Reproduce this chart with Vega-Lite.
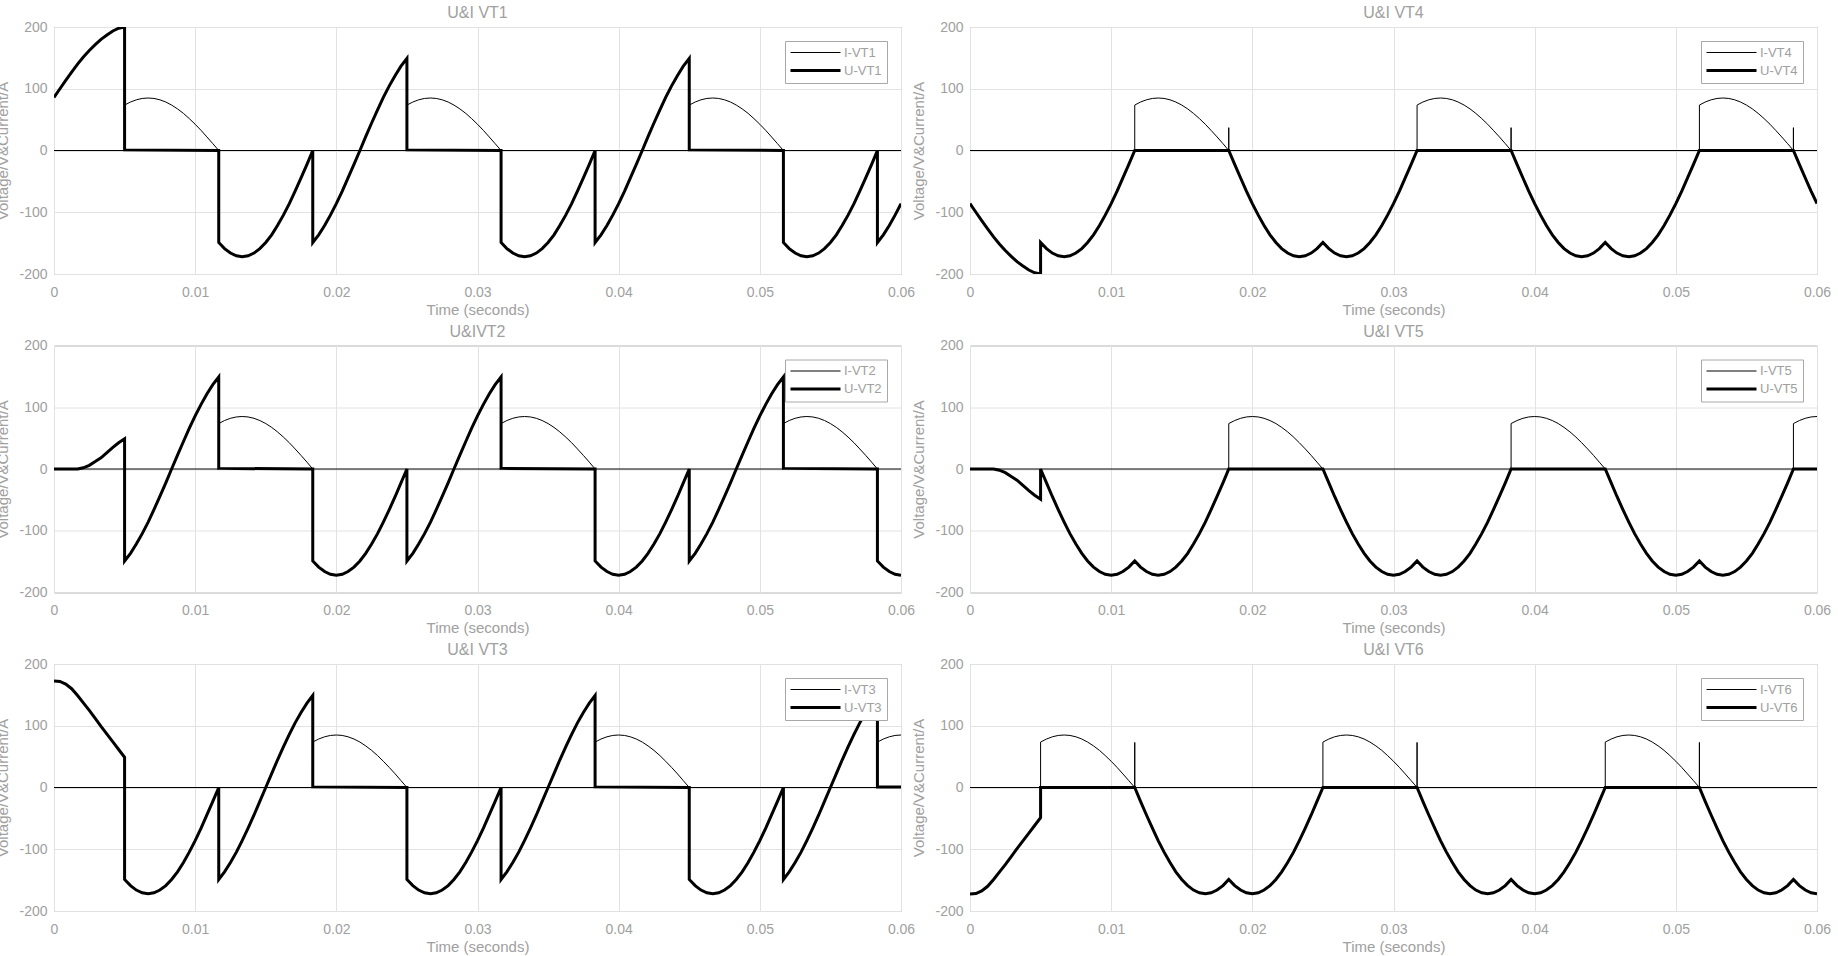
{
"$schema": "https://vega.github.io/schema/vega-lite/v6.json",
"background": "white",
"padding": {"left": -5, "top": 4, "right": 0, "bottom": 0},
"columns": 2,
"spacing": {"row": 71.5, "column": 69},
"bounds": "flush",
"resolve": {"scale": {"strokeWidth": "independent"}, "legend": {"strokeWidth": "independent"}},
"config": {
  "font": "Liberation Sans",
  "view": {"stroke": "#a8a8a8", "strokeWidth": 1},
  "axis": {"labelColor": "#a0a0a0", "titleColor": "#a0a0a0", "labelFontSize": 14, "titleFontSize": 15, "titleFontWeight": "normal", "gridColor": "#e2e2e2", "gridOpacity": 1, "domain": false, "ticks": false, "labelOverlap": false},
  "title": {"color": "#a0a0a0", "fontSize": 16, "fontWeight": "normal", "offset": -1, "anchor": "middle"},
  "legend": {"orient": "top-right", "offset": 14, "padding": 5, "strokeColor": "#a8a8a8", "fillColor": "white", "labelColor": "#a0a0a0", "labelFontSize": 13, "rowPadding": 4}
},
"datasets": {
"vt1": [
{"s":"I-VT1","t":0,"v":0},{"s":"I-VT1","t":0.005,"v":0},
{"s":"I-VT1","t":0.005,"v":73.6},{"s":"I-VT1","t":0.00542,"v":78.5},{"s":"I-VT1","t":0.00583,"v":82.1},{"s":"I-VT1","t":0.00625,"v":84.3},{"s":"I-VT1","t":0.00667,"v":85},{"s":"I-VT1","t":0.00708,"v":84.3},{"s":"I-VT1","t":0.0075,"v":82.1},{"s":"I-VT1","t":0.00792,"v":78.5},{"s":"I-VT1","t":0.00833,"v":73.6},{"s":"I-VT1","t":0.00875,"v":67.4},{"s":"I-VT1","t":0.00917,"v":60.1},{"s":"I-VT1","t":0.00958,"v":51.7},{"s":"I-VT1","t":0.01,"v":42.5},{"s":"I-VT1","t":0.01042,"v":32.5},{"s":"I-VT1","t":0.01083,"v":22},{"s":"I-VT1","t":0.01125,"v":11.1},{"s":"I-VT1","t":0.01167,"v":0},
{"s":"I-VT1","t":0.025,"v":0},
{"s":"I-VT1","t":0.025,"v":73.6},{"s":"I-VT1","t":0.02542,"v":78.5},{"s":"I-VT1","t":0.02583,"v":82.1},{"s":"I-VT1","t":0.02625,"v":84.3},{"s":"I-VT1","t":0.02667,"v":85},{"s":"I-VT1","t":0.02708,"v":84.3},{"s":"I-VT1","t":0.0275,"v":82.1},{"s":"I-VT1","t":0.02792,"v":78.5},{"s":"I-VT1","t":0.02833,"v":73.6},{"s":"I-VT1","t":0.02875,"v":67.4},{"s":"I-VT1","t":0.02917,"v":60.1},{"s":"I-VT1","t":0.02958,"v":51.7},{"s":"I-VT1","t":0.03,"v":42.5},{"s":"I-VT1","t":0.03042,"v":32.5},{"s":"I-VT1","t":0.03083,"v":22},{"s":"I-VT1","t":0.03125,"v":11.1},{"s":"I-VT1","t":0.03167,"v":0},
{"s":"I-VT1","t":0.045,"v":0},
{"s":"I-VT1","t":0.045,"v":73.6},{"s":"I-VT1","t":0.04542,"v":78.5},{"s":"I-VT1","t":0.04583,"v":82.1},{"s":"I-VT1","t":0.04625,"v":84.3},{"s":"I-VT1","t":0.04667,"v":85},{"s":"I-VT1","t":0.04708,"v":84.3},{"s":"I-VT1","t":0.0475,"v":82.1},{"s":"I-VT1","t":0.04792,"v":78.5},{"s":"I-VT1","t":0.04833,"v":73.6},{"s":"I-VT1","t":0.04875,"v":67.4},{"s":"I-VT1","t":0.04917,"v":60.1},{"s":"I-VT1","t":0.04958,"v":51.7},{"s":"I-VT1","t":0.05,"v":42.5},{"s":"I-VT1","t":0.05042,"v":32.5},{"s":"I-VT1","t":0.05083,"v":22},{"s":"I-VT1","t":0.05125,"v":11.1},{"s":"I-VT1","t":0.05167,"v":0},
{"s":"I-VT1","t":0.06,"v":0},
{"s":"U-VT1","t":0,"v":86},{"s":"U-VT1","t":0.00042,"v":100},{"s":"U-VT1","t":0.00083,"v":113.5},{"s":"U-VT1","t":0.00125,"v":127},{"s":"U-VT1","t":0.00167,"v":140},{"s":"U-VT1","t":0.00208,"v":151.5},{"s":"U-VT1","t":0.0025,"v":162},{"s":"U-VT1","t":0.00292,"v":171.5},{"s":"U-VT1","t":0.00333,"v":180},{"s":"U-VT1","t":0.00375,"v":187},{"s":"U-VT1","t":0.00417,"v":193.5},{"s":"U-VT1","t":0.00458,"v":198},{"s":"U-VT1","t":0.005,"v":200},
{"s":"U-VT1","t":0.005,"v":1},{"s":"U-VT1","t":0.01167,"v":0},
{"s":"U-VT1","t":0.01167,"v":-149},{"s":"U-VT1","t":0.01208,"v":-158.9},{"s":"U-VT1","t":0.0125,"v":-166.1},{"s":"U-VT1","t":0.01292,"v":-170.5},{"s":"U-VT1","t":0.01333,"v":-172},{"s":"U-VT1","t":0.01375,"v":-170.5},{"s":"U-VT1","t":0.01417,"v":-166.1},{"s":"U-VT1","t":0.01458,"v":-158.9},{"s":"U-VT1","t":0.015,"v":-149},{"s":"U-VT1","t":0.01542,"v":-136.5},{"s":"U-VT1","t":0.01583,"v":-121.6},{"s":"U-VT1","t":0.01625,"v":-104.7},{"s":"U-VT1","t":0.01667,"v":-86},{"s":"U-VT1","t":0.01708,"v":-65.8},{"s":"U-VT1","t":0.0175,"v":-44.5},{"s":"U-VT1","t":0.01792,"v":-22.4},{"s":"U-VT1","t":0.01833,"v":0},
{"s":"U-VT1","t":0.01833,"v":-149},{"s":"U-VT1","t":0.01875,"v":-136.5},{"s":"U-VT1","t":0.01917,"v":-121.6},{"s":"U-VT1","t":0.01958,"v":-104.7},{"s":"U-VT1","t":0.02,"v":-86},{"s":"U-VT1","t":0.02042,"v":-65.8},{"s":"U-VT1","t":0.02083,"v":-44.5},{"s":"U-VT1","t":0.02125,"v":-22.4},{"s":"U-VT1","t":0.02167,"v":0},{"s":"U-VT1","t":0.02208,"v":22.4},{"s":"U-VT1","t":0.0225,"v":44.5},{"s":"U-VT1","t":0.02292,"v":65.8},{"s":"U-VT1","t":0.02333,"v":86},{"s":"U-VT1","t":0.02375,"v":104.7},{"s":"U-VT1","t":0.02417,"v":121.6},{"s":"U-VT1","t":0.02458,"v":136.5},{"s":"U-VT1","t":0.025,"v":149},
{"s":"U-VT1","t":0.025,"v":1},{"s":"U-VT1","t":0.03167,"v":0},
{"s":"U-VT1","t":0.03167,"v":-149},{"s":"U-VT1","t":0.03208,"v":-158.9},{"s":"U-VT1","t":0.0325,"v":-166.1},{"s":"U-VT1","t":0.03292,"v":-170.5},{"s":"U-VT1","t":0.03333,"v":-172},{"s":"U-VT1","t":0.03375,"v":-170.5},{"s":"U-VT1","t":0.03417,"v":-166.1},{"s":"U-VT1","t":0.03458,"v":-158.9},{"s":"U-VT1","t":0.035,"v":-149},{"s":"U-VT1","t":0.03542,"v":-136.5},{"s":"U-VT1","t":0.03583,"v":-121.6},{"s":"U-VT1","t":0.03625,"v":-104.7},{"s":"U-VT1","t":0.03667,"v":-86},{"s":"U-VT1","t":0.03708,"v":-65.8},{"s":"U-VT1","t":0.0375,"v":-44.5},{"s":"U-VT1","t":0.03792,"v":-22.4},{"s":"U-VT1","t":0.03833,"v":0},
{"s":"U-VT1","t":0.03833,"v":-149},{"s":"U-VT1","t":0.03875,"v":-136.5},{"s":"U-VT1","t":0.03917,"v":-121.6},{"s":"U-VT1","t":0.03958,"v":-104.7},{"s":"U-VT1","t":0.04,"v":-86},{"s":"U-VT1","t":0.04042,"v":-65.8},{"s":"U-VT1","t":0.04083,"v":-44.5},{"s":"U-VT1","t":0.04125,"v":-22.4},{"s":"U-VT1","t":0.04167,"v":0},{"s":"U-VT1","t":0.04208,"v":22.4},{"s":"U-VT1","t":0.0425,"v":44.5},{"s":"U-VT1","t":0.04292,"v":65.8},{"s":"U-VT1","t":0.04333,"v":86},{"s":"U-VT1","t":0.04375,"v":104.7},{"s":"U-VT1","t":0.04417,"v":121.6},{"s":"U-VT1","t":0.04458,"v":136.5},{"s":"U-VT1","t":0.045,"v":149},
{"s":"U-VT1","t":0.045,"v":1},{"s":"U-VT1","t":0.05167,"v":0},
{"s":"U-VT1","t":0.05167,"v":-149},{"s":"U-VT1","t":0.05208,"v":-158.9},{"s":"U-VT1","t":0.0525,"v":-166.1},{"s":"U-VT1","t":0.05292,"v":-170.5},{"s":"U-VT1","t":0.05333,"v":-172},{"s":"U-VT1","t":0.05375,"v":-170.5},{"s":"U-VT1","t":0.05417,"v":-166.1},{"s":"U-VT1","t":0.05458,"v":-158.9},{"s":"U-VT1","t":0.055,"v":-149},{"s":"U-VT1","t":0.05542,"v":-136.5},{"s":"U-VT1","t":0.05583,"v":-121.6},{"s":"U-VT1","t":0.05625,"v":-104.7},{"s":"U-VT1","t":0.05667,"v":-86},{"s":"U-VT1","t":0.05708,"v":-65.8},{"s":"U-VT1","t":0.0575,"v":-44.5},{"s":"U-VT1","t":0.05792,"v":-22.4},{"s":"U-VT1","t":0.05833,"v":0},
{"s":"U-VT1","t":0.05833,"v":-149},{"s":"U-VT1","t":0.05875,"v":-136.5},{"s":"U-VT1","t":0.05917,"v":-121.6},{"s":"U-VT1","t":0.05958,"v":-104.7},{"s":"U-VT1","t":0.06,"v":-86}
],
"vt2": [
{"s":"I-VT2","t":0,"v":0},{"s":"I-VT2","t":0.01167,"v":0},
{"s":"I-VT2","t":0.01167,"v":73.6},{"s":"I-VT2","t":0.01208,"v":78.5},{"s":"I-VT2","t":0.0125,"v":82.1},{"s":"I-VT2","t":0.01292,"v":84.3},{"s":"I-VT2","t":0.01333,"v":85},{"s":"I-VT2","t":0.01375,"v":84.3},{"s":"I-VT2","t":0.01417,"v":82.1},{"s":"I-VT2","t":0.01458,"v":78.5},{"s":"I-VT2","t":0.015,"v":73.6},{"s":"I-VT2","t":0.01542,"v":67.4},{"s":"I-VT2","t":0.01583,"v":60.1},{"s":"I-VT2","t":0.01625,"v":51.7},{"s":"I-VT2","t":0.01667,"v":42.5},{"s":"I-VT2","t":0.01708,"v":32.5},{"s":"I-VT2","t":0.0175,"v":22},{"s":"I-VT2","t":0.01792,"v":11.1},{"s":"I-VT2","t":0.01833,"v":0},
{"s":"I-VT2","t":0.03167,"v":0},
{"s":"I-VT2","t":0.03167,"v":73.6},{"s":"I-VT2","t":0.03208,"v":78.5},{"s":"I-VT2","t":0.0325,"v":82.1},{"s":"I-VT2","t":0.03292,"v":84.3},{"s":"I-VT2","t":0.03333,"v":85},{"s":"I-VT2","t":0.03375,"v":84.3},{"s":"I-VT2","t":0.03417,"v":82.1},{"s":"I-VT2","t":0.03458,"v":78.5},{"s":"I-VT2","t":0.035,"v":73.6},{"s":"I-VT2","t":0.03542,"v":67.4},{"s":"I-VT2","t":0.03583,"v":60.1},{"s":"I-VT2","t":0.03625,"v":51.7},{"s":"I-VT2","t":0.03667,"v":42.5},{"s":"I-VT2","t":0.03708,"v":32.5},{"s":"I-VT2","t":0.0375,"v":22},{"s":"I-VT2","t":0.03792,"v":11.1},{"s":"I-VT2","t":0.03833,"v":0},
{"s":"I-VT2","t":0.05167,"v":0},
{"s":"I-VT2","t":0.05167,"v":73.6},{"s":"I-VT2","t":0.05208,"v":78.5},{"s":"I-VT2","t":0.0525,"v":82.1},{"s":"I-VT2","t":0.05292,"v":84.3},{"s":"I-VT2","t":0.05333,"v":85},{"s":"I-VT2","t":0.05375,"v":84.3},{"s":"I-VT2","t":0.05417,"v":82.1},{"s":"I-VT2","t":0.05458,"v":78.5},{"s":"I-VT2","t":0.055,"v":73.6},{"s":"I-VT2","t":0.05542,"v":67.4},{"s":"I-VT2","t":0.05583,"v":60.1},{"s":"I-VT2","t":0.05625,"v":51.7},{"s":"I-VT2","t":0.05667,"v":42.5},{"s":"I-VT2","t":0.05708,"v":32.5},{"s":"I-VT2","t":0.0575,"v":22},{"s":"I-VT2","t":0.05792,"v":11.1},{"s":"I-VT2","t":0.05833,"v":0},
{"s":"I-VT2","t":0.06,"v":0},
{"s":"U-VT2","t":0,"v":0},{"s":"U-VT2","t":0.00167,"v":0},{"s":"U-VT2","t":0.00208,"v":2},{"s":"U-VT2","t":0.0025,"v":6},{"s":"U-VT2","t":0.00292,"v":12},{"s":"U-VT2","t":0.00333,"v":18},{"s":"U-VT2","t":0.00375,"v":26.5},{"s":"U-VT2","t":0.00417,"v":35},{"s":"U-VT2","t":0.00458,"v":42.5},{"s":"U-VT2","t":0.005,"v":49},
{"s":"U-VT2","t":0.005,"v":-149},{"s":"U-VT2","t":0.00542,"v":-136.5},{"s":"U-VT2","t":0.00583,"v":-121.6},{"s":"U-VT2","t":0.00625,"v":-104.7},{"s":"U-VT2","t":0.00667,"v":-86},{"s":"U-VT2","t":0.00708,"v":-65.8},{"s":"U-VT2","t":0.0075,"v":-44.5},{"s":"U-VT2","t":0.00792,"v":-22.4},{"s":"U-VT2","t":0.00833,"v":0},{"s":"U-VT2","t":0.00875,"v":22.4},{"s":"U-VT2","t":0.00917,"v":44.5},{"s":"U-VT2","t":0.00958,"v":65.8},{"s":"U-VT2","t":0.01,"v":86},{"s":"U-VT2","t":0.01042,"v":104.7},{"s":"U-VT2","t":0.01083,"v":121.6},{"s":"U-VT2","t":0.01125,"v":136.5},{"s":"U-VT2","t":0.01167,"v":149},
{"s":"U-VT2","t":0.01167,"v":1},{"s":"U-VT2","t":0.01833,"v":0},
{"s":"U-VT2","t":0.01833,"v":-149},{"s":"U-VT2","t":0.01875,"v":-158.9},{"s":"U-VT2","t":0.01917,"v":-166.1},{"s":"U-VT2","t":0.01958,"v":-170.5},{"s":"U-VT2","t":0.02,"v":-172},{"s":"U-VT2","t":0.02042,"v":-170.5},{"s":"U-VT2","t":0.02083,"v":-166.1},{"s":"U-VT2","t":0.02125,"v":-158.9},{"s":"U-VT2","t":0.02167,"v":-149},{"s":"U-VT2","t":0.02208,"v":-136.5},{"s":"U-VT2","t":0.0225,"v":-121.6},{"s":"U-VT2","t":0.02292,"v":-104.7},{"s":"U-VT2","t":0.02333,"v":-86},{"s":"U-VT2","t":0.02375,"v":-65.8},{"s":"U-VT2","t":0.02417,"v":-44.5},{"s":"U-VT2","t":0.02458,"v":-22.4},{"s":"U-VT2","t":0.025,"v":0},
{"s":"U-VT2","t":0.025,"v":-149},{"s":"U-VT2","t":0.02542,"v":-136.5},{"s":"U-VT2","t":0.02583,"v":-121.6},{"s":"U-VT2","t":0.02625,"v":-104.7},{"s":"U-VT2","t":0.02667,"v":-86},{"s":"U-VT2","t":0.02708,"v":-65.8},{"s":"U-VT2","t":0.0275,"v":-44.5},{"s":"U-VT2","t":0.02792,"v":-22.4},{"s":"U-VT2","t":0.02833,"v":0},{"s":"U-VT2","t":0.02875,"v":22.4},{"s":"U-VT2","t":0.02917,"v":44.5},{"s":"U-VT2","t":0.02958,"v":65.8},{"s":"U-VT2","t":0.03,"v":86},{"s":"U-VT2","t":0.03042,"v":104.7},{"s":"U-VT2","t":0.03083,"v":121.6},{"s":"U-VT2","t":0.03125,"v":136.5},{"s":"U-VT2","t":0.03167,"v":149},
{"s":"U-VT2","t":0.03167,"v":1},{"s":"U-VT2","t":0.03833,"v":0},
{"s":"U-VT2","t":0.03833,"v":-149},{"s":"U-VT2","t":0.03875,"v":-158.9},{"s":"U-VT2","t":0.03917,"v":-166.1},{"s":"U-VT2","t":0.03958,"v":-170.5},{"s":"U-VT2","t":0.04,"v":-172},{"s":"U-VT2","t":0.04042,"v":-170.5},{"s":"U-VT2","t":0.04083,"v":-166.1},{"s":"U-VT2","t":0.04125,"v":-158.9},{"s":"U-VT2","t":0.04167,"v":-149},{"s":"U-VT2","t":0.04208,"v":-136.5},{"s":"U-VT2","t":0.0425,"v":-121.6},{"s":"U-VT2","t":0.04292,"v":-104.7},{"s":"U-VT2","t":0.04333,"v":-86},{"s":"U-VT2","t":0.04375,"v":-65.8},{"s":"U-VT2","t":0.04417,"v":-44.5},{"s":"U-VT2","t":0.04458,"v":-22.4},{"s":"U-VT2","t":0.045,"v":0},
{"s":"U-VT2","t":0.045,"v":-149},{"s":"U-VT2","t":0.04542,"v":-136.5},{"s":"U-VT2","t":0.04583,"v":-121.6},{"s":"U-VT2","t":0.04625,"v":-104.7},{"s":"U-VT2","t":0.04667,"v":-86},{"s":"U-VT2","t":0.04708,"v":-65.8},{"s":"U-VT2","t":0.0475,"v":-44.5},{"s":"U-VT2","t":0.04792,"v":-22.4},{"s":"U-VT2","t":0.04833,"v":0},{"s":"U-VT2","t":0.04875,"v":22.4},{"s":"U-VT2","t":0.04917,"v":44.5},{"s":"U-VT2","t":0.04958,"v":65.8},{"s":"U-VT2","t":0.05,"v":86},{"s":"U-VT2","t":0.05042,"v":104.7},{"s":"U-VT2","t":0.05083,"v":121.6},{"s":"U-VT2","t":0.05125,"v":136.5},{"s":"U-VT2","t":0.05167,"v":149},
{"s":"U-VT2","t":0.05167,"v":1},{"s":"U-VT2","t":0.05833,"v":0},
{"s":"U-VT2","t":0.05833,"v":-149},{"s":"U-VT2","t":0.05875,"v":-158.9},{"s":"U-VT2","t":0.05917,"v":-166.1},{"s":"U-VT2","t":0.05958,"v":-170.5},{"s":"U-VT2","t":0.06,"v":-172}
],
"vt3": [
{"s":"I-VT3","t":0,"v":0},{"s":"I-VT3","t":0.01833,"v":0},
{"s":"I-VT3","t":0.01833,"v":73.6},{"s":"I-VT3","t":0.01875,"v":78.5},{"s":"I-VT3","t":0.01917,"v":82.1},{"s":"I-VT3","t":0.01958,"v":84.3},{"s":"I-VT3","t":0.02,"v":85},{"s":"I-VT3","t":0.02042,"v":84.3},{"s":"I-VT3","t":0.02083,"v":82.1},{"s":"I-VT3","t":0.02125,"v":78.5},{"s":"I-VT3","t":0.02167,"v":73.6},{"s":"I-VT3","t":0.02208,"v":67.4},{"s":"I-VT3","t":0.0225,"v":60.1},{"s":"I-VT3","t":0.02292,"v":51.7},{"s":"I-VT3","t":0.02333,"v":42.5},{"s":"I-VT3","t":0.02375,"v":32.5},{"s":"I-VT3","t":0.02417,"v":22},{"s":"I-VT3","t":0.02458,"v":11.1},{"s":"I-VT3","t":0.025,"v":0},
{"s":"I-VT3","t":0.03833,"v":0},
{"s":"I-VT3","t":0.03833,"v":73.6},{"s":"I-VT3","t":0.03875,"v":78.5},{"s":"I-VT3","t":0.03917,"v":82.1},{"s":"I-VT3","t":0.03958,"v":84.3},{"s":"I-VT3","t":0.04,"v":85},{"s":"I-VT3","t":0.04042,"v":84.3},{"s":"I-VT3","t":0.04083,"v":82.1},{"s":"I-VT3","t":0.04125,"v":78.5},{"s":"I-VT3","t":0.04167,"v":73.6},{"s":"I-VT3","t":0.04208,"v":67.4},{"s":"I-VT3","t":0.0425,"v":60.1},{"s":"I-VT3","t":0.04292,"v":51.7},{"s":"I-VT3","t":0.04333,"v":42.5},{"s":"I-VT3","t":0.04375,"v":32.5},{"s":"I-VT3","t":0.04417,"v":22},{"s":"I-VT3","t":0.04458,"v":11.1},{"s":"I-VT3","t":0.045,"v":0},
{"s":"I-VT3","t":0.05833,"v":0},
{"s":"I-VT3","t":0.05833,"v":73.6},{"s":"I-VT3","t":0.05875,"v":78.5},{"s":"I-VT3","t":0.05917,"v":82.1},{"s":"I-VT3","t":0.05958,"v":84.3},{"s":"I-VT3","t":0.06,"v":85},
{"s":"U-VT3","t":0,"v":172.6},{"s":"U-VT3","t":0.00042,"v":171.8},{"s":"U-VT3","t":0.00083,"v":167.5},{"s":"U-VT3","t":0.00125,"v":160},{"s":"U-VT3","t":0.00167,"v":149},{"s":"U-VT3","t":0.00208,"v":137},{"s":"U-VT3","t":0.0025,"v":125},{"s":"U-VT3","t":0.00292,"v":112},{"s":"U-VT3","t":0.00333,"v":99},{"s":"U-VT3","t":0.00375,"v":86.5},{"s":"U-VT3","t":0.00417,"v":74},{"s":"U-VT3","t":0.00458,"v":61.5},{"s":"U-VT3","t":0.005,"v":49},
{"s":"U-VT3","t":0.005,"v":-149},{"s":"U-VT3","t":0.00542,"v":-158.9},{"s":"U-VT3","t":0.00583,"v":-166.1},{"s":"U-VT3","t":0.00625,"v":-170.5},{"s":"U-VT3","t":0.00667,"v":-172},{"s":"U-VT3","t":0.00708,"v":-170.5},{"s":"U-VT3","t":0.0075,"v":-166.1},{"s":"U-VT3","t":0.00792,"v":-158.9},{"s":"U-VT3","t":0.00833,"v":-149},{"s":"U-VT3","t":0.00875,"v":-136.5},{"s":"U-VT3","t":0.00917,"v":-121.6},{"s":"U-VT3","t":0.00958,"v":-104.7},{"s":"U-VT3","t":0.01,"v":-86},{"s":"U-VT3","t":0.01042,"v":-65.8},{"s":"U-VT3","t":0.01083,"v":-44.5},{"s":"U-VT3","t":0.01125,"v":-22.4},{"s":"U-VT3","t":0.01167,"v":0},
{"s":"U-VT3","t":0.01167,"v":-149},{"s":"U-VT3","t":0.01208,"v":-136.5},{"s":"U-VT3","t":0.0125,"v":-121.6},{"s":"U-VT3","t":0.01292,"v":-104.7},{"s":"U-VT3","t":0.01333,"v":-86},{"s":"U-VT3","t":0.01375,"v":-65.8},{"s":"U-VT3","t":0.01417,"v":-44.5},{"s":"U-VT3","t":0.01458,"v":-22.4},{"s":"U-VT3","t":0.015,"v":0},{"s":"U-VT3","t":0.01542,"v":22.4},{"s":"U-VT3","t":0.01583,"v":44.5},{"s":"U-VT3","t":0.01625,"v":65.8},{"s":"U-VT3","t":0.01667,"v":86},{"s":"U-VT3","t":0.01708,"v":104.7},{"s":"U-VT3","t":0.0175,"v":121.6},{"s":"U-VT3","t":0.01792,"v":136.5},{"s":"U-VT3","t":0.01833,"v":149},
{"s":"U-VT3","t":0.01833,"v":1},{"s":"U-VT3","t":0.025,"v":0},
{"s":"U-VT3","t":0.025,"v":-149},{"s":"U-VT3","t":0.02542,"v":-158.9},{"s":"U-VT3","t":0.02583,"v":-166.1},{"s":"U-VT3","t":0.02625,"v":-170.5},{"s":"U-VT3","t":0.02667,"v":-172},{"s":"U-VT3","t":0.02708,"v":-170.5},{"s":"U-VT3","t":0.0275,"v":-166.1},{"s":"U-VT3","t":0.02792,"v":-158.9},{"s":"U-VT3","t":0.02833,"v":-149},{"s":"U-VT3","t":0.02875,"v":-136.5},{"s":"U-VT3","t":0.02917,"v":-121.6},{"s":"U-VT3","t":0.02958,"v":-104.7},{"s":"U-VT3","t":0.03,"v":-86},{"s":"U-VT3","t":0.03042,"v":-65.8},{"s":"U-VT3","t":0.03083,"v":-44.5},{"s":"U-VT3","t":0.03125,"v":-22.4},{"s":"U-VT3","t":0.03167,"v":0},
{"s":"U-VT3","t":0.03167,"v":-149},{"s":"U-VT3","t":0.03208,"v":-136.5},{"s":"U-VT3","t":0.0325,"v":-121.6},{"s":"U-VT3","t":0.03292,"v":-104.7},{"s":"U-VT3","t":0.03333,"v":-86},{"s":"U-VT3","t":0.03375,"v":-65.8},{"s":"U-VT3","t":0.03417,"v":-44.5},{"s":"U-VT3","t":0.03458,"v":-22.4},{"s":"U-VT3","t":0.035,"v":0},{"s":"U-VT3","t":0.03542,"v":22.4},{"s":"U-VT3","t":0.03583,"v":44.5},{"s":"U-VT3","t":0.03625,"v":65.8},{"s":"U-VT3","t":0.03667,"v":86},{"s":"U-VT3","t":0.03708,"v":104.7},{"s":"U-VT3","t":0.0375,"v":121.6},{"s":"U-VT3","t":0.03792,"v":136.5},{"s":"U-VT3","t":0.03833,"v":149},
{"s":"U-VT3","t":0.03833,"v":1},{"s":"U-VT3","t":0.045,"v":0},
{"s":"U-VT3","t":0.045,"v":-149},{"s":"U-VT3","t":0.04542,"v":-158.9},{"s":"U-VT3","t":0.04583,"v":-166.1},{"s":"U-VT3","t":0.04625,"v":-170.5},{"s":"U-VT3","t":0.04667,"v":-172},{"s":"U-VT3","t":0.04708,"v":-170.5},{"s":"U-VT3","t":0.0475,"v":-166.1},{"s":"U-VT3","t":0.04792,"v":-158.9},{"s":"U-VT3","t":0.04833,"v":-149},{"s":"U-VT3","t":0.04875,"v":-136.5},{"s":"U-VT3","t":0.04917,"v":-121.6},{"s":"U-VT3","t":0.04958,"v":-104.7},{"s":"U-VT3","t":0.05,"v":-86},{"s":"U-VT3","t":0.05042,"v":-65.8},{"s":"U-VT3","t":0.05083,"v":-44.5},{"s":"U-VT3","t":0.05125,"v":-22.4},{"s":"U-VT3","t":0.05167,"v":0},
{"s":"U-VT3","t":0.05167,"v":-149},{"s":"U-VT3","t":0.05208,"v":-136.5},{"s":"U-VT3","t":0.0525,"v":-121.6},{"s":"U-VT3","t":0.05292,"v":-104.7},{"s":"U-VT3","t":0.05333,"v":-86},{"s":"U-VT3","t":0.05375,"v":-65.8},{"s":"U-VT3","t":0.05417,"v":-44.5},{"s":"U-VT3","t":0.05458,"v":-22.4},{"s":"U-VT3","t":0.055,"v":0},{"s":"U-VT3","t":0.05542,"v":22.4},{"s":"U-VT3","t":0.05583,"v":44.5},{"s":"U-VT3","t":0.05625,"v":65.8},{"s":"U-VT3","t":0.05667,"v":86},{"s":"U-VT3","t":0.05708,"v":104.7},{"s":"U-VT3","t":0.0575,"v":121.6},{"s":"U-VT3","t":0.05792,"v":136.5},{"s":"U-VT3","t":0.05833,"v":149},
{"s":"U-VT3","t":0.05833,"v":1},{"s":"U-VT3","t":0.06,"v":1}
],
"vt4": [
{"s":"I-VT4","t":0,"v":0},{"s":"I-VT4","t":0.01167,"v":0},
{"s":"I-VT4","t":0.01167,"v":73.6},{"s":"I-VT4","t":0.01208,"v":78.5},{"s":"I-VT4","t":0.0125,"v":82.1},{"s":"I-VT4","t":0.01292,"v":84.3},{"s":"I-VT4","t":0.01333,"v":85},{"s":"I-VT4","t":0.01375,"v":84.3},{"s":"I-VT4","t":0.01417,"v":82.1},{"s":"I-VT4","t":0.01458,"v":78.5},{"s":"I-VT4","t":0.015,"v":73.6},{"s":"I-VT4","t":0.01542,"v":67.4},{"s":"I-VT4","t":0.01583,"v":60.1},{"s":"I-VT4","t":0.01625,"v":51.7},{"s":"I-VT4","t":0.01667,"v":42.5},{"s":"I-VT4","t":0.01708,"v":32.5},{"s":"I-VT4","t":0.0175,"v":22},{"s":"I-VT4","t":0.01792,"v":11.1},{"s":"I-VT4","t":0.01833,"v":0},{"s":"I-VT4","t":0.01833,"v":37},{"s":"I-VT4","t":0.01833,"v":0},
{"s":"I-VT4","t":0.03167,"v":0},
{"s":"I-VT4","t":0.03167,"v":73.6},{"s":"I-VT4","t":0.03208,"v":78.5},{"s":"I-VT4","t":0.0325,"v":82.1},{"s":"I-VT4","t":0.03292,"v":84.3},{"s":"I-VT4","t":0.03333,"v":85},{"s":"I-VT4","t":0.03375,"v":84.3},{"s":"I-VT4","t":0.03417,"v":82.1},{"s":"I-VT4","t":0.03458,"v":78.5},{"s":"I-VT4","t":0.035,"v":73.6},{"s":"I-VT4","t":0.03542,"v":67.4},{"s":"I-VT4","t":0.03583,"v":60.1},{"s":"I-VT4","t":0.03625,"v":51.7},{"s":"I-VT4","t":0.03667,"v":42.5},{"s":"I-VT4","t":0.03708,"v":32.5},{"s":"I-VT4","t":0.0375,"v":22},{"s":"I-VT4","t":0.03792,"v":11.1},{"s":"I-VT4","t":0.03833,"v":0},{"s":"I-VT4","t":0.03833,"v":37},{"s":"I-VT4","t":0.03833,"v":0},
{"s":"I-VT4","t":0.05167,"v":0},
{"s":"I-VT4","t":0.05167,"v":73.6},{"s":"I-VT4","t":0.05208,"v":78.5},{"s":"I-VT4","t":0.0525,"v":82.1},{"s":"I-VT4","t":0.05292,"v":84.3},{"s":"I-VT4","t":0.05333,"v":85},{"s":"I-VT4","t":0.05375,"v":84.3},{"s":"I-VT4","t":0.05417,"v":82.1},{"s":"I-VT4","t":0.05458,"v":78.5},{"s":"I-VT4","t":0.055,"v":73.6},{"s":"I-VT4","t":0.05542,"v":67.4},{"s":"I-VT4","t":0.05583,"v":60.1},{"s":"I-VT4","t":0.05625,"v":51.7},{"s":"I-VT4","t":0.05667,"v":42.5},{"s":"I-VT4","t":0.05708,"v":32.5},{"s":"I-VT4","t":0.0575,"v":22},{"s":"I-VT4","t":0.05792,"v":11.1},{"s":"I-VT4","t":0.05833,"v":0},{"s":"I-VT4","t":0.05833,"v":37},{"s":"I-VT4","t":0.05833,"v":0},
{"s":"I-VT4","t":0.06,"v":0},
{"s":"U-VT4","t":0,"v":-86},{"s":"U-VT4","t":0.00042,"v":-100},{"s":"U-VT4","t":0.00083,"v":-113.5},{"s":"U-VT4","t":0.00125,"v":-127},{"s":"U-VT4","t":0.00167,"v":-140},{"s":"U-VT4","t":0.00208,"v":-151.5},{"s":"U-VT4","t":0.0025,"v":-162},{"s":"U-VT4","t":0.00292,"v":-171.5},{"s":"U-VT4","t":0.00333,"v":-180},{"s":"U-VT4","t":0.00375,"v":-187},{"s":"U-VT4","t":0.00417,"v":-193.5},{"s":"U-VT4","t":0.00458,"v":-198},{"s":"U-VT4","t":0.005,"v":-200},
{"s":"U-VT4","t":0.005,"v":-149},{"s":"U-VT4","t":0.00542,"v":-158.9},{"s":"U-VT4","t":0.00583,"v":-166.1},{"s":"U-VT4","t":0.00625,"v":-170.5},{"s":"U-VT4","t":0.00667,"v":-172},{"s":"U-VT4","t":0.00708,"v":-170.5},{"s":"U-VT4","t":0.0075,"v":-166.1},{"s":"U-VT4","t":0.00792,"v":-158.9},{"s":"U-VT4","t":0.00833,"v":-149},{"s":"U-VT4","t":0.00875,"v":-136.5},{"s":"U-VT4","t":0.00917,"v":-121.6},{"s":"U-VT4","t":0.00958,"v":-104.7},{"s":"U-VT4","t":0.01,"v":-86},{"s":"U-VT4","t":0.01042,"v":-65.8},{"s":"U-VT4","t":0.01083,"v":-44.5},{"s":"U-VT4","t":0.01125,"v":-22.4},{"s":"U-VT4","t":0.01167,"v":0},
{"s":"U-VT4","t":0.01833,"v":0},{"s":"U-VT4","t":0.01875,"v":-22.4},{"s":"U-VT4","t":0.01917,"v":-44.5},{"s":"U-VT4","t":0.01958,"v":-65.8},{"s":"U-VT4","t":0.02,"v":-86},{"s":"U-VT4","t":0.02042,"v":-104.7},{"s":"U-VT4","t":0.02083,"v":-121.6},{"s":"U-VT4","t":0.02125,"v":-136.5},{"s":"U-VT4","t":0.02167,"v":-149},{"s":"U-VT4","t":0.02208,"v":-158.9},{"s":"U-VT4","t":0.0225,"v":-166.1},{"s":"U-VT4","t":0.02292,"v":-170.5},{"s":"U-VT4","t":0.02333,"v":-172},{"s":"U-VT4","t":0.02375,"v":-170.5},{"s":"U-VT4","t":0.02417,"v":-166.1},{"s":"U-VT4","t":0.02458,"v":-158.9},{"s":"U-VT4","t":0.025,"v":-149},
{"s":"U-VT4","t":0.02542,"v":-158.9},{"s":"U-VT4","t":0.02583,"v":-166.1},{"s":"U-VT4","t":0.02625,"v":-170.5},{"s":"U-VT4","t":0.02667,"v":-172},{"s":"U-VT4","t":0.02708,"v":-170.5},{"s":"U-VT4","t":0.0275,"v":-166.1},{"s":"U-VT4","t":0.02792,"v":-158.9},{"s":"U-VT4","t":0.02833,"v":-149},{"s":"U-VT4","t":0.02875,"v":-136.5},{"s":"U-VT4","t":0.02917,"v":-121.6},{"s":"U-VT4","t":0.02958,"v":-104.7},{"s":"U-VT4","t":0.03,"v":-86},{"s":"U-VT4","t":0.03042,"v":-65.8},{"s":"U-VT4","t":0.03083,"v":-44.5},{"s":"U-VT4","t":0.03125,"v":-22.4},{"s":"U-VT4","t":0.03167,"v":0},
{"s":"U-VT4","t":0.03833,"v":0},{"s":"U-VT4","t":0.03875,"v":-22.4},{"s":"U-VT4","t":0.03917,"v":-44.5},{"s":"U-VT4","t":0.03958,"v":-65.8},{"s":"U-VT4","t":0.04,"v":-86},{"s":"U-VT4","t":0.04042,"v":-104.7},{"s":"U-VT4","t":0.04083,"v":-121.6},{"s":"U-VT4","t":0.04125,"v":-136.5},{"s":"U-VT4","t":0.04167,"v":-149},{"s":"U-VT4","t":0.04208,"v":-158.9},{"s":"U-VT4","t":0.0425,"v":-166.1},{"s":"U-VT4","t":0.04292,"v":-170.5},{"s":"U-VT4","t":0.04333,"v":-172},{"s":"U-VT4","t":0.04375,"v":-170.5},{"s":"U-VT4","t":0.04417,"v":-166.1},{"s":"U-VT4","t":0.04458,"v":-158.9},{"s":"U-VT4","t":0.045,"v":-149},
{"s":"U-VT4","t":0.04542,"v":-158.9},{"s":"U-VT4","t":0.04583,"v":-166.1},{"s":"U-VT4","t":0.04625,"v":-170.5},{"s":"U-VT4","t":0.04667,"v":-172},{"s":"U-VT4","t":0.04708,"v":-170.5},{"s":"U-VT4","t":0.0475,"v":-166.1},{"s":"U-VT4","t":0.04792,"v":-158.9},{"s":"U-VT4","t":0.04833,"v":-149},{"s":"U-VT4","t":0.04875,"v":-136.5},{"s":"U-VT4","t":0.04917,"v":-121.6},{"s":"U-VT4","t":0.04958,"v":-104.7},{"s":"U-VT4","t":0.05,"v":-86},{"s":"U-VT4","t":0.05042,"v":-65.8},{"s":"U-VT4","t":0.05083,"v":-44.5},{"s":"U-VT4","t":0.05125,"v":-22.4},{"s":"U-VT4","t":0.05167,"v":0},
{"s":"U-VT4","t":0.05833,"v":0},{"s":"U-VT4","t":0.05875,"v":-22.4},{"s":"U-VT4","t":0.05917,"v":-44.5},{"s":"U-VT4","t":0.05958,"v":-65.8},{"s":"U-VT4","t":0.06,"v":-86}
],
"vt5": [
{"s":"I-VT5","t":0,"v":0},{"s":"I-VT5","t":0.01833,"v":0},
{"s":"I-VT5","t":0.01833,"v":73.6},{"s":"I-VT5","t":0.01875,"v":78.5},{"s":"I-VT5","t":0.01917,"v":82.1},{"s":"I-VT5","t":0.01958,"v":84.3},{"s":"I-VT5","t":0.02,"v":85},{"s":"I-VT5","t":0.02042,"v":84.3},{"s":"I-VT5","t":0.02083,"v":82.1},{"s":"I-VT5","t":0.02125,"v":78.5},{"s":"I-VT5","t":0.02167,"v":73.6},{"s":"I-VT5","t":0.02208,"v":67.4},{"s":"I-VT5","t":0.0225,"v":60.1},{"s":"I-VT5","t":0.02292,"v":51.7},{"s":"I-VT5","t":0.02333,"v":42.5},{"s":"I-VT5","t":0.02375,"v":32.5},{"s":"I-VT5","t":0.02417,"v":22},{"s":"I-VT5","t":0.02458,"v":11.1},{"s":"I-VT5","t":0.025,"v":0},
{"s":"I-VT5","t":0.03833,"v":0},
{"s":"I-VT5","t":0.03833,"v":73.6},{"s":"I-VT5","t":0.03875,"v":78.5},{"s":"I-VT5","t":0.03917,"v":82.1},{"s":"I-VT5","t":0.03958,"v":84.3},{"s":"I-VT5","t":0.04,"v":85},{"s":"I-VT5","t":0.04042,"v":84.3},{"s":"I-VT5","t":0.04083,"v":82.1},{"s":"I-VT5","t":0.04125,"v":78.5},{"s":"I-VT5","t":0.04167,"v":73.6},{"s":"I-VT5","t":0.04208,"v":67.4},{"s":"I-VT5","t":0.0425,"v":60.1},{"s":"I-VT5","t":0.04292,"v":51.7},{"s":"I-VT5","t":0.04333,"v":42.5},{"s":"I-VT5","t":0.04375,"v":32.5},{"s":"I-VT5","t":0.04417,"v":22},{"s":"I-VT5","t":0.04458,"v":11.1},{"s":"I-VT5","t":0.045,"v":0},
{"s":"I-VT5","t":0.05833,"v":0},
{"s":"I-VT5","t":0.05833,"v":73.6},{"s":"I-VT5","t":0.05875,"v":78.5},{"s":"I-VT5","t":0.05917,"v":82.1},{"s":"I-VT5","t":0.05958,"v":84.3},{"s":"I-VT5","t":0.06,"v":85},
{"s":"U-VT5","t":0,"v":0},{"s":"U-VT5","t":0.00167,"v":0},{"s":"U-VT5","t":0.00208,"v":-2},{"s":"U-VT5","t":0.0025,"v":-6},{"s":"U-VT5","t":0.00292,"v":-12},{"s":"U-VT5","t":0.00333,"v":-18},{"s":"U-VT5","t":0.00375,"v":-26.5},{"s":"U-VT5","t":0.00417,"v":-35},{"s":"U-VT5","t":0.00458,"v":-42.5},{"s":"U-VT5","t":0.005,"v":-49},
{"s":"U-VT5","t":0.005,"v":0},{"s":"U-VT5","t":0.00542,"v":-22.4},{"s":"U-VT5","t":0.00583,"v":-44.5},{"s":"U-VT5","t":0.00625,"v":-65.8},{"s":"U-VT5","t":0.00667,"v":-86},{"s":"U-VT5","t":0.00708,"v":-104.7},{"s":"U-VT5","t":0.0075,"v":-121.6},{"s":"U-VT5","t":0.00792,"v":-136.5},{"s":"U-VT5","t":0.00833,"v":-149},{"s":"U-VT5","t":0.00875,"v":-158.9},{"s":"U-VT5","t":0.00917,"v":-166.1},{"s":"U-VT5","t":0.00958,"v":-170.5},{"s":"U-VT5","t":0.01,"v":-172},{"s":"U-VT5","t":0.01042,"v":-170.5},{"s":"U-VT5","t":0.01083,"v":-166.1},{"s":"U-VT5","t":0.01125,"v":-158.9},{"s":"U-VT5","t":0.01167,"v":-149},
{"s":"U-VT5","t":0.01208,"v":-158.9},{"s":"U-VT5","t":0.0125,"v":-166.1},{"s":"U-VT5","t":0.01292,"v":-170.5},{"s":"U-VT5","t":0.01333,"v":-172},{"s":"U-VT5","t":0.01375,"v":-170.5},{"s":"U-VT5","t":0.01417,"v":-166.1},{"s":"U-VT5","t":0.01458,"v":-158.9},{"s":"U-VT5","t":0.015,"v":-149},{"s":"U-VT5","t":0.01542,"v":-136.5},{"s":"U-VT5","t":0.01583,"v":-121.6},{"s":"U-VT5","t":0.01625,"v":-104.7},{"s":"U-VT5","t":0.01667,"v":-86},{"s":"U-VT5","t":0.01708,"v":-65.8},{"s":"U-VT5","t":0.0175,"v":-44.5},{"s":"U-VT5","t":0.01792,"v":-22.4},{"s":"U-VT5","t":0.01833,"v":0},
{"s":"U-VT5","t":0.025,"v":0},{"s":"U-VT5","t":0.02542,"v":-22.4},{"s":"U-VT5","t":0.02583,"v":-44.5},{"s":"U-VT5","t":0.02625,"v":-65.8},{"s":"U-VT5","t":0.02667,"v":-86},{"s":"U-VT5","t":0.02708,"v":-104.7},{"s":"U-VT5","t":0.0275,"v":-121.6},{"s":"U-VT5","t":0.02792,"v":-136.5},{"s":"U-VT5","t":0.02833,"v":-149},{"s":"U-VT5","t":0.02875,"v":-158.9},{"s":"U-VT5","t":0.02917,"v":-166.1},{"s":"U-VT5","t":0.02958,"v":-170.5},{"s":"U-VT5","t":0.03,"v":-172},{"s":"U-VT5","t":0.03042,"v":-170.5},{"s":"U-VT5","t":0.03083,"v":-166.1},{"s":"U-VT5","t":0.03125,"v":-158.9},{"s":"U-VT5","t":0.03167,"v":-149},
{"s":"U-VT5","t":0.03208,"v":-158.9},{"s":"U-VT5","t":0.0325,"v":-166.1},{"s":"U-VT5","t":0.03292,"v":-170.5},{"s":"U-VT5","t":0.03333,"v":-172},{"s":"U-VT5","t":0.03375,"v":-170.5},{"s":"U-VT5","t":0.03417,"v":-166.1},{"s":"U-VT5","t":0.03458,"v":-158.9},{"s":"U-VT5","t":0.035,"v":-149},{"s":"U-VT5","t":0.03542,"v":-136.5},{"s":"U-VT5","t":0.03583,"v":-121.6},{"s":"U-VT5","t":0.03625,"v":-104.7},{"s":"U-VT5","t":0.03667,"v":-86},{"s":"U-VT5","t":0.03708,"v":-65.8},{"s":"U-VT5","t":0.0375,"v":-44.5},{"s":"U-VT5","t":0.03792,"v":-22.4},{"s":"U-VT5","t":0.03833,"v":0},
{"s":"U-VT5","t":0.045,"v":0},{"s":"U-VT5","t":0.04542,"v":-22.4},{"s":"U-VT5","t":0.04583,"v":-44.5},{"s":"U-VT5","t":0.04625,"v":-65.8},{"s":"U-VT5","t":0.04667,"v":-86},{"s":"U-VT5","t":0.04708,"v":-104.7},{"s":"U-VT5","t":0.0475,"v":-121.6},{"s":"U-VT5","t":0.04792,"v":-136.5},{"s":"U-VT5","t":0.04833,"v":-149},{"s":"U-VT5","t":0.04875,"v":-158.9},{"s":"U-VT5","t":0.04917,"v":-166.1},{"s":"U-VT5","t":0.04958,"v":-170.5},{"s":"U-VT5","t":0.05,"v":-172},{"s":"U-VT5","t":0.05042,"v":-170.5},{"s":"U-VT5","t":0.05083,"v":-166.1},{"s":"U-VT5","t":0.05125,"v":-158.9},{"s":"U-VT5","t":0.05167,"v":-149},
{"s":"U-VT5","t":0.05208,"v":-158.9},{"s":"U-VT5","t":0.0525,"v":-166.1},{"s":"U-VT5","t":0.05292,"v":-170.5},{"s":"U-VT5","t":0.05333,"v":-172},{"s":"U-VT5","t":0.05375,"v":-170.5},{"s":"U-VT5","t":0.05417,"v":-166.1},{"s":"U-VT5","t":0.05458,"v":-158.9},{"s":"U-VT5","t":0.055,"v":-149},{"s":"U-VT5","t":0.05542,"v":-136.5},{"s":"U-VT5","t":0.05583,"v":-121.6},{"s":"U-VT5","t":0.05625,"v":-104.7},{"s":"U-VT5","t":0.05667,"v":-86},{"s":"U-VT5","t":0.05708,"v":-65.8},{"s":"U-VT5","t":0.0575,"v":-44.5},{"s":"U-VT5","t":0.05792,"v":-22.4},{"s":"U-VT5","t":0.05833,"v":0},
{"s":"U-VT5","t":0.06,"v":0}
],
"vt6": [
{"s":"I-VT6","t":0,"v":0},{"s":"I-VT6","t":0.005,"v":0},
{"s":"I-VT6","t":0.005,"v":73.6},{"s":"I-VT6","t":0.00542,"v":78.5},{"s":"I-VT6","t":0.00583,"v":82.1},{"s":"I-VT6","t":0.00625,"v":84.3},{"s":"I-VT6","t":0.00667,"v":85},{"s":"I-VT6","t":0.00708,"v":84.3},{"s":"I-VT6","t":0.0075,"v":82.1},{"s":"I-VT6","t":0.00792,"v":78.5},{"s":"I-VT6","t":0.00833,"v":73.6},{"s":"I-VT6","t":0.00875,"v":67.4},{"s":"I-VT6","t":0.00917,"v":60.1},{"s":"I-VT6","t":0.00958,"v":51.7},{"s":"I-VT6","t":0.01,"v":42.5},{"s":"I-VT6","t":0.01042,"v":32.5},{"s":"I-VT6","t":0.01083,"v":22},{"s":"I-VT6","t":0.01125,"v":11.1},{"s":"I-VT6","t":0.01167,"v":0},{"s":"I-VT6","t":0.01167,"v":73},{"s":"I-VT6","t":0.01167,"v":0},
{"s":"I-VT6","t":0.025,"v":0},
{"s":"I-VT6","t":0.025,"v":73.6},{"s":"I-VT6","t":0.02542,"v":78.5},{"s":"I-VT6","t":0.02583,"v":82.1},{"s":"I-VT6","t":0.02625,"v":84.3},{"s":"I-VT6","t":0.02667,"v":85},{"s":"I-VT6","t":0.02708,"v":84.3},{"s":"I-VT6","t":0.0275,"v":82.1},{"s":"I-VT6","t":0.02792,"v":78.5},{"s":"I-VT6","t":0.02833,"v":73.6},{"s":"I-VT6","t":0.02875,"v":67.4},{"s":"I-VT6","t":0.02917,"v":60.1},{"s":"I-VT6","t":0.02958,"v":51.7},{"s":"I-VT6","t":0.03,"v":42.5},{"s":"I-VT6","t":0.03042,"v":32.5},{"s":"I-VT6","t":0.03083,"v":22},{"s":"I-VT6","t":0.03125,"v":11.1},{"s":"I-VT6","t":0.03167,"v":0},{"s":"I-VT6","t":0.03167,"v":73},{"s":"I-VT6","t":0.03167,"v":0},
{"s":"I-VT6","t":0.045,"v":0},
{"s":"I-VT6","t":0.045,"v":73.6},{"s":"I-VT6","t":0.04542,"v":78.5},{"s":"I-VT6","t":0.04583,"v":82.1},{"s":"I-VT6","t":0.04625,"v":84.3},{"s":"I-VT6","t":0.04667,"v":85},{"s":"I-VT6","t":0.04708,"v":84.3},{"s":"I-VT6","t":0.0475,"v":82.1},{"s":"I-VT6","t":0.04792,"v":78.5},{"s":"I-VT6","t":0.04833,"v":73.6},{"s":"I-VT6","t":0.04875,"v":67.4},{"s":"I-VT6","t":0.04917,"v":60.1},{"s":"I-VT6","t":0.04958,"v":51.7},{"s":"I-VT6","t":0.05,"v":42.5},{"s":"I-VT6","t":0.05042,"v":32.5},{"s":"I-VT6","t":0.05083,"v":22},{"s":"I-VT6","t":0.05125,"v":11.1},{"s":"I-VT6","t":0.05167,"v":0},{"s":"I-VT6","t":0.05167,"v":73},{"s":"I-VT6","t":0.05167,"v":0},
{"s":"I-VT6","t":0.06,"v":0},
{"s":"U-VT6","t":0,"v":-172.6},{"s":"U-VT6","t":0.00042,"v":-171.8},{"s":"U-VT6","t":0.00083,"v":-167.5},{"s":"U-VT6","t":0.00125,"v":-160},{"s":"U-VT6","t":0.00167,"v":-149},{"s":"U-VT6","t":0.00208,"v":-137},{"s":"U-VT6","t":0.0025,"v":-125},{"s":"U-VT6","t":0.00292,"v":-112},{"s":"U-VT6","t":0.00333,"v":-99},{"s":"U-VT6","t":0.00375,"v":-86.5},{"s":"U-VT6","t":0.00417,"v":-74},{"s":"U-VT6","t":0.00458,"v":-61.5},{"s":"U-VT6","t":0.005,"v":-49},
{"s":"U-VT6","t":0.005,"v":0},{"s":"U-VT6","t":0.01167,"v":0},
{"s":"U-VT6","t":0.01208,"v":-22.4},{"s":"U-VT6","t":0.0125,"v":-44.5},{"s":"U-VT6","t":0.01292,"v":-65.8},{"s":"U-VT6","t":0.01333,"v":-86},{"s":"U-VT6","t":0.01375,"v":-104.7},{"s":"U-VT6","t":0.01417,"v":-121.6},{"s":"U-VT6","t":0.01458,"v":-136.5},{"s":"U-VT6","t":0.015,"v":-149},{"s":"U-VT6","t":0.01542,"v":-158.9},{"s":"U-VT6","t":0.01583,"v":-166.1},{"s":"U-VT6","t":0.01625,"v":-170.5},{"s":"U-VT6","t":0.01667,"v":-172},{"s":"U-VT6","t":0.01708,"v":-170.5},{"s":"U-VT6","t":0.0175,"v":-166.1},{"s":"U-VT6","t":0.01792,"v":-158.9},{"s":"U-VT6","t":0.01833,"v":-149},
{"s":"U-VT6","t":0.01875,"v":-158.9},{"s":"U-VT6","t":0.01917,"v":-166.1},{"s":"U-VT6","t":0.01958,"v":-170.5},{"s":"U-VT6","t":0.02,"v":-172},{"s":"U-VT6","t":0.02042,"v":-170.5},{"s":"U-VT6","t":0.02083,"v":-166.1},{"s":"U-VT6","t":0.02125,"v":-158.9},{"s":"U-VT6","t":0.02167,"v":-149},{"s":"U-VT6","t":0.02208,"v":-136.5},{"s":"U-VT6","t":0.0225,"v":-121.6},{"s":"U-VT6","t":0.02292,"v":-104.7},{"s":"U-VT6","t":0.02333,"v":-86},{"s":"U-VT6","t":0.02375,"v":-65.8},{"s":"U-VT6","t":0.02417,"v":-44.5},{"s":"U-VT6","t":0.02458,"v":-22.4},{"s":"U-VT6","t":0.025,"v":0},
{"s":"U-VT6","t":0.03167,"v":0},
{"s":"U-VT6","t":0.03208,"v":-22.4},{"s":"U-VT6","t":0.0325,"v":-44.5},{"s":"U-VT6","t":0.03292,"v":-65.8},{"s":"U-VT6","t":0.03333,"v":-86},{"s":"U-VT6","t":0.03375,"v":-104.7},{"s":"U-VT6","t":0.03417,"v":-121.6},{"s":"U-VT6","t":0.03458,"v":-136.5},{"s":"U-VT6","t":0.035,"v":-149},{"s":"U-VT6","t":0.03542,"v":-158.9},{"s":"U-VT6","t":0.03583,"v":-166.1},{"s":"U-VT6","t":0.03625,"v":-170.5},{"s":"U-VT6","t":0.03667,"v":-172},{"s":"U-VT6","t":0.03708,"v":-170.5},{"s":"U-VT6","t":0.0375,"v":-166.1},{"s":"U-VT6","t":0.03792,"v":-158.9},{"s":"U-VT6","t":0.03833,"v":-149},
{"s":"U-VT6","t":0.03875,"v":-158.9},{"s":"U-VT6","t":0.03917,"v":-166.1},{"s":"U-VT6","t":0.03958,"v":-170.5},{"s":"U-VT6","t":0.04,"v":-172},{"s":"U-VT6","t":0.04042,"v":-170.5},{"s":"U-VT6","t":0.04083,"v":-166.1},{"s":"U-VT6","t":0.04125,"v":-158.9},{"s":"U-VT6","t":0.04167,"v":-149},{"s":"U-VT6","t":0.04208,"v":-136.5},{"s":"U-VT6","t":0.0425,"v":-121.6},{"s":"U-VT6","t":0.04292,"v":-104.7},{"s":"U-VT6","t":0.04333,"v":-86},{"s":"U-VT6","t":0.04375,"v":-65.8},{"s":"U-VT6","t":0.04417,"v":-44.5},{"s":"U-VT6","t":0.04458,"v":-22.4},{"s":"U-VT6","t":0.045,"v":0},
{"s":"U-VT6","t":0.05167,"v":0},
{"s":"U-VT6","t":0.05208,"v":-22.4},{"s":"U-VT6","t":0.0525,"v":-44.5},{"s":"U-VT6","t":0.05292,"v":-65.8},{"s":"U-VT6","t":0.05333,"v":-86},{"s":"U-VT6","t":0.05375,"v":-104.7},{"s":"U-VT6","t":0.05417,"v":-121.6},{"s":"U-VT6","t":0.05458,"v":-136.5},{"s":"U-VT6","t":0.055,"v":-149},{"s":"U-VT6","t":0.05542,"v":-158.9},{"s":"U-VT6","t":0.05583,"v":-166.1},{"s":"U-VT6","t":0.05625,"v":-170.5},{"s":"U-VT6","t":0.05667,"v":-172},{"s":"U-VT6","t":0.05708,"v":-170.5},{"s":"U-VT6","t":0.0575,"v":-166.1},{"s":"U-VT6","t":0.05792,"v":-158.9},{"s":"U-VT6","t":0.05833,"v":-149},
{"s":"U-VT6","t":0.05875,"v":-158.9},{"s":"U-VT6","t":0.05917,"v":-166.1},{"s":"U-VT6","t":0.05958,"v":-170.5},{"s":"U-VT6","t":0.06,"v":-172}
]
},
"concat": [
{"title": "U&I VT1", "width": 847, "height": 247, "data": {"name": "vt1"},
 "mark": {"type": "line", "color": "black", "clip": true},
 "encoding": {
  "x": {"field": "t", "type": "quantitative", "scale": {"domain": [0, 0.06], "nice": false, "zero": false}, "axis": {"title": "Time (seconds)", "values": [0,0.01,0.02,0.03,0.04,0.05,0.06], "format": "~g", "labelPadding": 11, "titlePadding": 3, "labelFlush": false}},
  "y": {"field": "v", "type": "quantitative", "scale": {"domain": [-200, 200], "nice": false}, "axis": {"title": "Voltage/V&Current/A", "values": [-200,-100,0,100,200], "labelPadding": 7, "labelExpr": "replace(datum.label, '\u2212', '-')", "titlePadding": 8}},
  "strokeWidth": {"field": "s", "type": "ordinal", "scale": {"range": [1, 3]}, "legend": {"title": null, "symbolType": "M-5,0H5", "symbolSize": 100, "symbolOffset": 19, "labelOffset": 22, "symbolStrokeColor": "black"}},
  "detail": {"field": "s"},
  "order": {"value": null}
 }},
{"title": "U&I VT4", "width": 847, "height": 247, "data": {"name": "vt4"},
 "mark": {"type": "line", "color": "black", "clip": true},
 "encoding": {
  "x": {"field": "t", "type": "quantitative", "scale": {"domain": [0, 0.06], "nice": false, "zero": false}, "axis": {"title": "Time (seconds)", "values": [0,0.01,0.02,0.03,0.04,0.05,0.06], "format": "~g", "labelPadding": 11, "titlePadding": 3, "labelFlush": false}},
  "y": {"field": "v", "type": "quantitative", "scale": {"domain": [-200, 200], "nice": false}, "axis": {"title": "Voltage/V&Current/A", "values": [-200,-100,0,100,200], "labelPadding": 7, "labelExpr": "replace(datum.label, '\u2212', '-')", "titlePadding": 8}},
  "strokeWidth": {"field": "s", "type": "ordinal", "scale": {"range": [1, 3]}, "legend": {"title": null, "symbolType": "M-5,0H5", "symbolSize": 100, "symbolOffset": 19, "labelOffset": 22, "symbolStrokeColor": "black"}},
  "detail": {"field": "s"},
  "order": {"value": null}
 }},
{"title": "U&IVT2", "width": 847, "height": 247, "data": {"name": "vt2"},
 "mark": {"type": "line", "color": "black", "clip": true},
 "encoding": {
  "x": {"field": "t", "type": "quantitative", "scale": {"domain": [0, 0.06], "nice": false, "zero": false}, "axis": {"title": "Time (seconds)", "values": [0,0.01,0.02,0.03,0.04,0.05,0.06], "format": "~g", "labelPadding": 11, "titlePadding": 3, "labelFlush": false}},
  "y": {"field": "v", "type": "quantitative", "scale": {"domain": [-200, 200], "nice": false}, "axis": {"title": "Voltage/V&Current/A", "values": [-200,-100,0,100,200], "labelPadding": 7, "labelExpr": "replace(datum.label, '\u2212', '-')", "titlePadding": 8}},
  "strokeWidth": {"field": "s", "type": "ordinal", "scale": {"range": [1, 3]}, "legend": {"title": null, "symbolType": "M-5,0H5", "symbolSize": 100, "symbolOffset": 19, "labelOffset": 22, "symbolStrokeColor": "black"}},
  "detail": {"field": "s"},
  "order": {"value": null}
 }},
{"title": "U&I VT5", "width": 847, "height": 247, "data": {"name": "vt5"},
 "mark": {"type": "line", "color": "black", "clip": true},
 "encoding": {
  "x": {"field": "t", "type": "quantitative", "scale": {"domain": [0, 0.06], "nice": false, "zero": false}, "axis": {"title": "Time (seconds)", "values": [0,0.01,0.02,0.03,0.04,0.05,0.06], "format": "~g", "labelPadding": 11, "titlePadding": 3, "labelFlush": false}},
  "y": {"field": "v", "type": "quantitative", "scale": {"domain": [-200, 200], "nice": false}, "axis": {"title": "Voltage/V&Current/A", "values": [-200,-100,0,100,200], "labelPadding": 7, "labelExpr": "replace(datum.label, '\u2212', '-')", "titlePadding": 8}},
  "strokeWidth": {"field": "s", "type": "ordinal", "scale": {"range": [1, 3]}, "legend": {"title": null, "symbolType": "M-5,0H5", "symbolSize": 100, "symbolOffset": 19, "labelOffset": 22, "symbolStrokeColor": "black"}},
  "detail": {"field": "s"},
  "order": {"value": null}
 }},
{"title": "U&I VT3", "width": 847, "height": 247, "data": {"name": "vt3"},
 "mark": {"type": "line", "color": "black", "clip": true},
 "encoding": {
  "x": {"field": "t", "type": "quantitative", "scale": {"domain": [0, 0.06], "nice": false, "zero": false}, "axis": {"title": "Time (seconds)", "values": [0,0.01,0.02,0.03,0.04,0.05,0.06], "format": "~g", "labelPadding": 11, "titlePadding": 3, "labelFlush": false}},
  "y": {"field": "v", "type": "quantitative", "scale": {"domain": [-200, 200], "nice": false}, "axis": {"title": "Voltage/V&Current/A", "values": [-200,-100,0,100,200], "labelPadding": 7, "labelExpr": "replace(datum.label, '\u2212', '-')", "titlePadding": 8}},
  "strokeWidth": {"field": "s", "type": "ordinal", "scale": {"range": [1, 3]}, "legend": {"title": null, "symbolType": "M-5,0H5", "symbolSize": 100, "symbolOffset": 19, "labelOffset": 22, "symbolStrokeColor": "black"}},
  "detail": {"field": "s"},
  "order": {"value": null}
 }},
{"title": "U&I VT6", "width": 847, "height": 247, "data": {"name": "vt6"},
 "mark": {"type": "line", "color": "black", "clip": true},
 "encoding": {
  "x": {"field": "t", "type": "quantitative", "scale": {"domain": [0, 0.06], "nice": false, "zero": false}, "axis": {"title": "Time (seconds)", "values": [0,0.01,0.02,0.03,0.04,0.05,0.06], "format": "~g", "labelPadding": 11, "titlePadding": 3, "labelFlush": false}},
  "y": {"field": "v", "type": "quantitative", "scale": {"domain": [-200, 200], "nice": false}, "axis": {"title": "Voltage/V&Current/A", "values": [-200,-100,0,100,200], "labelPadding": 7, "labelExpr": "replace(datum.label, '\u2212', '-')", "titlePadding": 8}},
  "strokeWidth": {"field": "s", "type": "ordinal", "scale": {"range": [1, 3]}, "legend": {"title": null, "symbolType": "M-5,0H5", "symbolSize": 100, "symbolOffset": 19, "labelOffset": 22, "symbolStrokeColor": "black"}},
  "detail": {"field": "s"},
  "order": {"value": null}
 }}
]
}
